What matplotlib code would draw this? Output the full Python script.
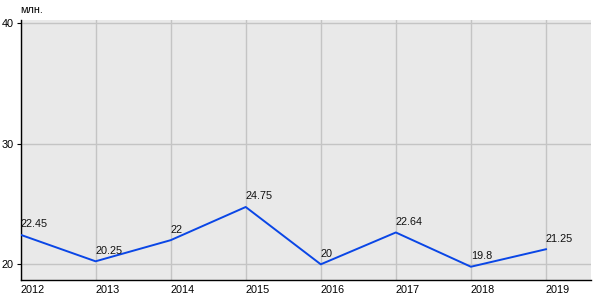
import matplotlib.pyplot as plt

years = [2012, 2013, 2014, 2015, 2016, 2017, 2018, 2019]
values = [22.45, 20.25, 22, 24.75, 20, 22.64, 19.8, 21.25]
value_labels = ["22.45", "20.25", "22", "24.75", "20", "22.64", "19.8", "21.25"]
y_ticks = [20, 30, 40]
unit_label = "млн."

plt.rcParams['font.family'] = ['Liberation Sans', 'DejaVu Sans']

fig = plt.figure(figsize=(6, 3), dpi=100)
ax = fig.add_axes([20.5 / 600, 1 - 280 / 300, (591 - 20.5) / 600, 260 / 300])
ax.set_facecolor('#e9e9e9')

ax.plot(years, values, color='#0a46e6', linewidth=1.4, zorder=3)
for x, y, s in zip(years, values, value_labels):
    ax.annotate(s, (x, y), xytext=(0, 4), textcoords='offset points',
                ha='left', va='bottom', fontsize=7.8, color='#111111', zorder=4)

ax.set_xlim(2012, 2019.6)
ax.set_ylim(18.7, 40.25)
ax.set_xticks(years)
ax.set_xticklabels([str(y) for y in years], ha='left')
ax.set_yticks(y_ticks)
ax.grid(True, color='#c4c4c4', linewidth=1.0, zorder=0)
ax.set_axisbelow(True)

for side in ['top', 'right']:
    ax.spines[side].set_visible(False)
for side in ['left', 'bottom']:
    ax.spines[side].set_color('black')
    ax.spines[side].set_linewidth(1.0)

ax.tick_params(axis='x', length=0, labelsize=7.8, pad=3.5)
ax.tick_params(axis='y', length=3, labelsize=7.8, pad=2, direction='out')

fig.text(20 / 600, 1 - 10 / 300, unit_label, fontsize=7.8, ha='left', va='center')

fig.savefig('out.png', dpi=100)
